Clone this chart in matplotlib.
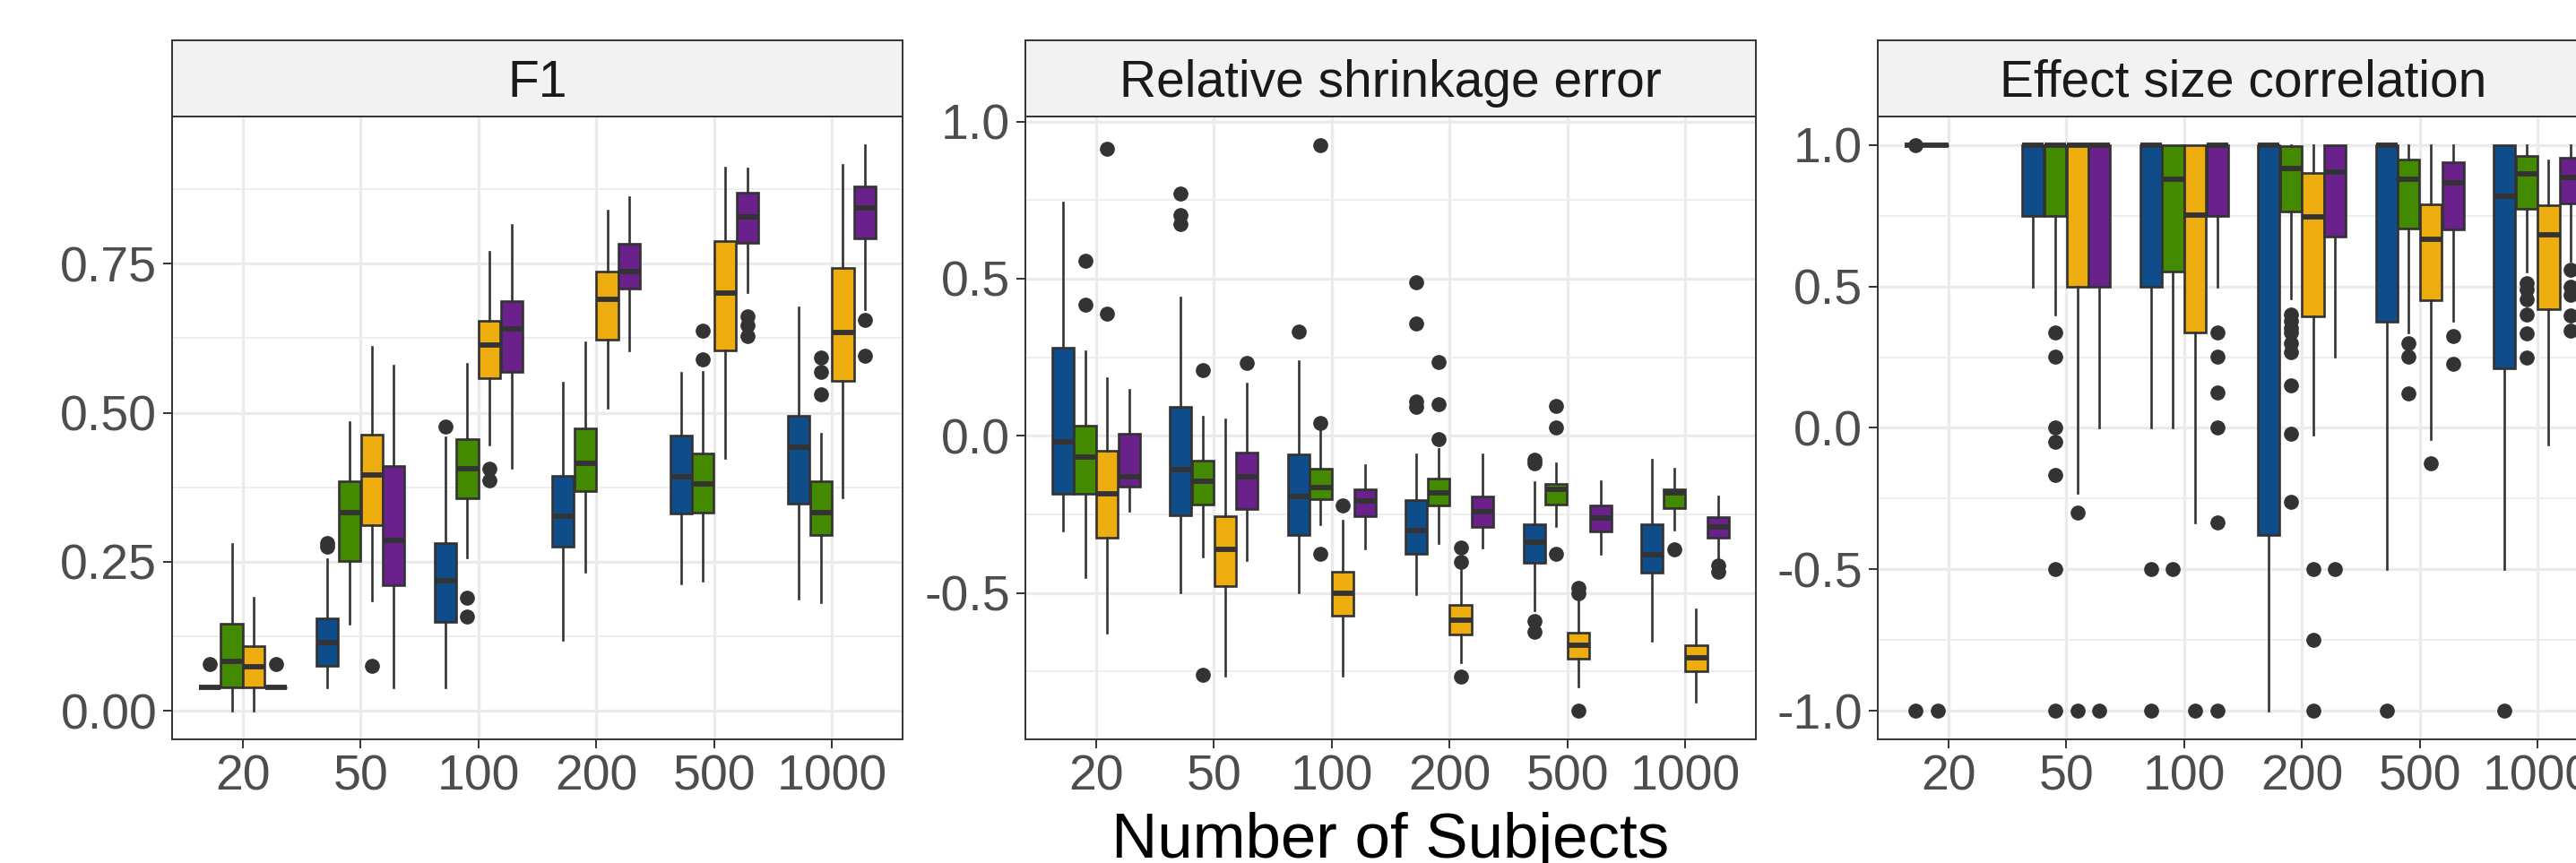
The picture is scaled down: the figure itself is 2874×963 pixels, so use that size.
import numpy as np
import matplotlib
matplotlib.use('Agg')
import matplotlib.pyplot as plt

plt.rcParams['font.family'] = ['Liberation Sans', 'DejaVu Sans']
plt.rcParams['axes.unicode_minus'] = False

SIZES = ['20', '50', '100', '200', '500', '1000']
# four methods (legend is cut off in the reference): blue, green, yellow, purple
COLORS = ['#0F4C8A', '#438A00', '#EEAD0E', '#6A218C']
NA = np.nan

# ---- F1 (rows: methods, cols: sample sizes) ----
F1_LO = [[0.04, 0.04, 0.04, 0.119, 0.214, 0.189],
         [0.0, 0.146, 0.257, 0.234, 0.219, 0.183],
         [0.0, 0.185, 0.446, 0.508, 0.424, 0.358],
         [0.04, 0.04, 0.408, 0.604, 0.702, 0.674]]
F1_Q1 = [[0.04, 0.0755, 0.15, 0.275, 0.331, 0.347],
         [0.04, 0.252, 0.356, 0.369, 0.332, 0.295],
         [0.04, 0.311, 0.558, 0.623, 0.604, 0.554],
         [0.04, 0.211, 0.569, 0.708, 0.785, 0.792]]
F1_MED = [[0.04, 0.115, 0.219, 0.326, 0.393, 0.442],
          [0.083, 0.332, 0.406, 0.415, 0.38, 0.333],
          [0.074, 0.395, 0.613, 0.69, 0.701, 0.635],
          [0.04, 0.286, 0.64, 0.736, 0.828, 0.843]]
F1_Q3 = [[0.04, 0.156, 0.282, 0.394, 0.462, 0.495],
         [0.147, 0.385, 0.456, 0.473, 0.431, 0.385],
         [0.109, 0.463, 0.654, 0.736, 0.787, 0.742],
         [0.04, 0.41, 0.687, 0.783, 0.869, 0.88]]
F1_HI = [[0.04, 0.254, 0.458, 0.55, 0.567, 0.676],
         [0.28, 0.485, 0.582, 0.618, 0.568, 0.465],
         [0.19, 0.611, 0.769, 0.838, 0.911, 0.915],
         [0.04, 0.579, 0.814, 0.861, 0.91, 0.949]]
F1_OUT = [[[0.078], [0.282, 0.275], [0.477], [], [], []],
          [[], [], [0.19, 0.158], [], [0.638, 0.59], [0.592, 0.569, 0.531]],
          [[], [0.075], [0.406, 0.386], [], [], []],
          [[0.078], [], [], [], [0.661, 0.647, 0.629], [0.656, 0.596]]]

# ---- Relative shrinkage error ----
RSE_LO = [[-0.301, -0.497, -0.499, -0.505, -0.556, -0.651],
          [-0.451, -0.383, -0.283, -0.342, -0.286, -0.3],
          [-0.628, -0.764, -0.764, -0.722, -0.798, -0.845],
          [-0.24, -0.396, -0.358, -0.356, -0.375, -0.399]]
RSE_Q1 = [[-0.184, -0.253, -0.317, -0.375, -0.403, -0.435],
          [-0.184, -0.218, -0.202, -0.222, -0.218, -0.229],
          [-0.324, -0.478, -0.572, -0.631, -0.71, -0.749],
          [-0.162, -0.233, -0.256, -0.29, -0.304, -0.324]]
RSE_MED = [[-0.02, -0.109, -0.192, -0.301, -0.338, -0.379],
           [-0.068, -0.144, -0.165, -0.181, -0.17, -0.181],
           [-0.184, -0.361, -0.501, -0.587, -0.668, -0.706],
           [-0.131, -0.131, -0.208, -0.243, -0.263, -0.29]]
RSE_Q3 = [[0.279, 0.091, -0.059, -0.204, -0.283, -0.282],
          [0.031, -0.078, -0.106, -0.135, -0.153, -0.169],
          [-0.049, -0.256, -0.433, -0.538, -0.628, -0.668],
          [0.007, -0.053, -0.17, -0.192, -0.223, -0.26]]
RSE_HI = [[0.741, 0.439, 0.237, -0.06, -0.147, -0.075],
          [0.268, 0.06, 0.023, -0.042, -0.089, -0.106],
          [0.184, 0.053, -0.27, -0.426, -0.508, -0.553],
          [0.146, 0.165, -0.093, -0.059, -0.146, -0.192]]
RSE_OUT = [[[], [0.772, 0.702, 0.674], [0.332], [0.489, 0.357, 0.108, 0.091],
            [-0.075, -0.089, -0.59, -0.624], []],
           [[0.557, 0.418], [0.21, -0.76], [0.926, 0.041, -0.375],
            [0.236, 0.101, -0.011], [0.095, 0.025, -0.376], [-0.362]],
           [[0.913, 0.39], [], [-0.222], [-0.356, -0.402, -0.767],
            [-0.485, -0.501, -0.876], []],
           [[], [0.232], [], [], [], [-0.413, -0.433]]]

# ---- Effect size correlation ----
ESC_LO = [[1.0, 0.5, 0.0, -1.0, -0.5, -0.5],
          [1.0, 0.4, 0.0, 0.458, 0.336, 0.552],
          [NA, -0.23, -0.333, -0.023, -0.038, -0.06],
          [NA, 0.0, 0.5, 0.253, 0.378, 0.59]]
ESC_Q1 = [[1.0, 0.749, 0.5, -0.378, 0.374, 0.212],
          [1.0, 0.749, 0.552, 0.764, 0.703, 0.775],
          [NA, 0.5, 0.336, 0.393, 0.451, 0.42],
          [NA, 0.5, 0.749, 0.676, 0.7, 0.794]]
ESC_MED = [[1.0, 1.0, 1.0, 1.0, 1.0, 0.817],
           [1.0, 1.0, 0.877, 0.915, 0.877, 0.897],
           [NA, 1.0, 0.752, 0.746, 0.666, 0.682],
           [NA, 1.0, 1.0, 0.903, 0.865, 0.886]]
ESC_Q3 = [[1.0, 1.0, 1.0, 1.0, 1.0, 1.0],
          [1.0, 1.0, 1.0, 0.995, 0.949, 0.961],
          [NA, 1.0, 1.0, 0.9, 0.79, 0.787],
          [NA, 1.0, 1.0, 1.0, 0.938, 0.953]]
ESC_HI = [[1.0, 1.0, 1.0, 1.0, 1.0, 1.0],
          [1.0, 1.0, 1.0, 0.998, 1.0, 1.0],
          [NA, 1.0, 1.0, 1.0, 1.0, 0.945],
          [NA, 1.0, 1.0, 1.0, 1.0, 1.0]]
ESC_OUT = [[[1.0, -1.0], [], [-0.5, -1.0], [], [-1.0], [-1.0]],
           [[-1.0], [0.336, 0.251, 0.0, -0.048, -0.166, -0.5, -1.0], [-0.5],
            [0.402, 0.377, 0.354, 0.337, 0.30, 0.266, 0.149, -0.019, -0.26],
            [0.3, 0.251, 0.121], [0.51, 0.49, 0.455, 0.4, 0.333, 0.25]],
           [[], [-0.3, -1.0], [-1.0], [-0.5, -0.749, -1.0], [-0.124], []],
           [[], [-1.0], [0.336, 0.251, 0.126, 0.0, -0.333, -1.0], [-0.5],
            [0.325, 0.227], [0.56, 0.497, 0.47, 0.396, 0.345]]]

F1_TICKS = [0.0, 0.25, 0.5, 0.75]
F1_LABELS = ['0.00', '0.25', '0.50', '0.75']
R_TICKS = [-1.0, -0.5, 0.0, 0.5, 1.0]
R_LABELS = ['-1.0', '-0.5', '0.0', '0.5', '1.0']

W, H = 2874, 963
fig = plt.figure(figsize=(W / 100, H / 100), dpi=100)

GRID = '#EBEBEB'
DARK = '#333333'
BOX_W = 0.75 / 4
OFFSETS = (np.arange(4) - 1.5) * BOX_W


def draw_panel(left_px, title, lo, q1, med, q3, hi, out, ticks, labels):
    left = left_px / W
    width = 815 / W
    ax = fig.add_axes([left, (H - 825) / H, width, 695 / H])
    strip = fig.add_axes([left, (H - 130) / H, width, 85 / H])

    x = np.arange(1, len(SIZES) + 1)
    allvals = []
    for m in range(4):
        stats, pos = [], []
        for j in range(len(SIZES)):
            if np.isnan(med[m][j]):
                continue
            stats.append(dict(med=med[m][j], q1=q1[m][j], q3=q3[m][j],
                              whislo=lo[m][j], whishi=hi[m][j],
                              fliers=np.array(out[m][j])))
            pos.append(x[j] + OFFSETS[m])
            allvals += [lo[m][j], hi[m][j]] + list(out[m][j])
        ax.bxp(stats, positions=pos, widths=BOX_W * 0.98, patch_artist=True,
               showcaps=False, manage_ticks=False,
               boxprops=dict(facecolor=COLORS[m], edgecolor=DARK, linewidth=1.9),
               medianprops=dict(color=DARK, linewidth=4.2, solid_capstyle='butt'),
               whiskerprops=dict(color=DARK, linewidth=1.9),
               flierprops=dict(marker='o', markerfacecolor=DARK,
                               markeredgecolor=DARK, markersize=11))

    ymin, ymax = min(allvals), max(allvals)
    pad = 0.05 * (ymax - ymin)
    lim = (ymin - pad, ymax + pad)

    ax.set_xticks(x)
    ax.set_xticklabels(SIZES)
    shown = [(t, l) for t, l in zip(ticks, labels) if lim[0] <= t <= lim[1]]
    ax.set_yticks([t for t, _ in shown])
    ax.set_yticklabels([l for _, l in shown])
    step = ticks[1] - ticks[0]
    minor = [t + step / 2 for t in [ticks[0] - step] + list(ticks)]
    minor = [v for v in minor if lim[0] <= v <= lim[1]]
    ax.set_yticks(minor, minor=True)
    ax.set_ylim(*lim)
    ax.set_xlim(0.4, len(SIZES) + 0.6)

    ax.grid(which='major', color=GRID, linewidth=2.4)
    ax.grid(which='minor', axis='y', color=GRID, linewidth=1.2)
    ax.set_axisbelow(True)
    ax.tick_params(which='major', length=7, width=1.4, color=DARK,
                   labelsize=40, labelcolor='#4D4D4D', pad=5)
    ax.tick_params(which='minor', length=0)
    for s in ax.spines.values():
        s.set_color(DARK)
        s.set_linewidth(1.4)

    strip.set_facecolor('#F2F2F2')
    strip.set_xticks([])
    strip.set_yticks([])
    for s in strip.spines.values():
        s.set_color(DARK)
        s.set_linewidth(1.4)
    strip.text(0.5, 0.26, title, transform=strip.transAxes, ha='center',
               va='baseline', fontsize=41, color='#1A1A1A')
    return ax


draw_panel(192, 'F1', F1_LO, F1_Q1, F1_MED, F1_Q3, F1_HI, F1_OUT,
           F1_TICKS, F1_LABELS)
draw_panel(1144, 'Relative shrinkage error', RSE_LO, RSE_Q1, RSE_MED, RSE_Q3,
           RSE_HI, RSE_OUT, R_TICKS, R_LABELS)
draw_panel(2095, 'Effect size correlation', ESC_LO, ESC_Q1, ESC_MED, ESC_Q3,
           ESC_HI, ESC_OUT, R_TICKS, R_LABELS)

fig.text((1144 + 407) / W, (H - 957) / H, 'Number of Subjects', ha='center',
         va='baseline', fontsize=51, color='black')

fig.savefig('out.png', dpi=100, facecolor='white')
